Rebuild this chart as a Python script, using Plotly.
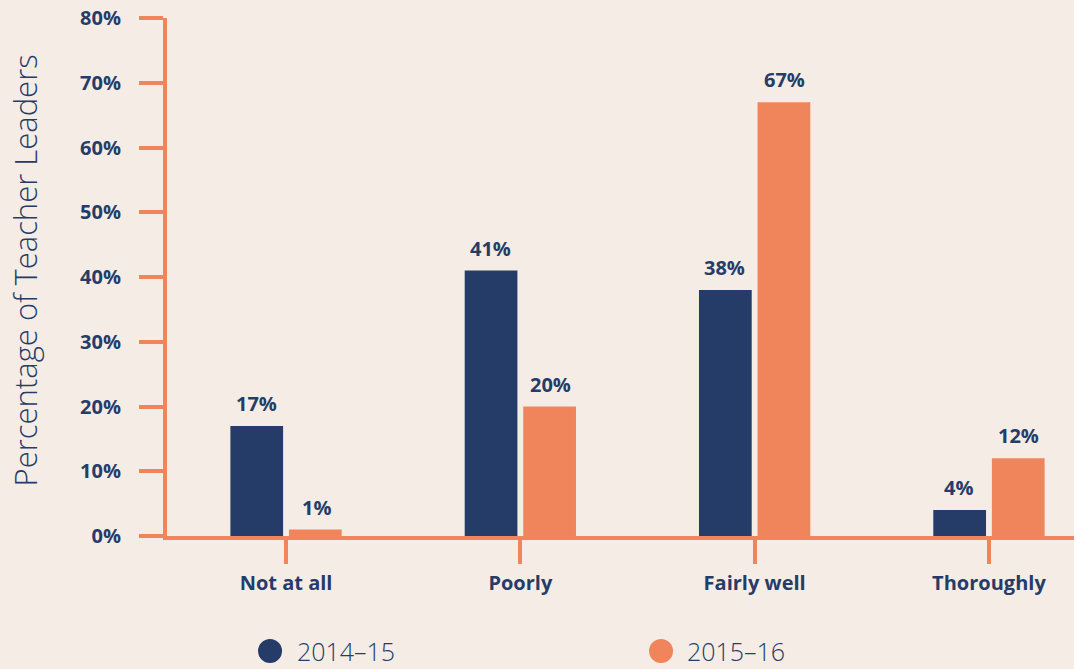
import plotly.graph_objects as go

categories = ["Not at all", "Poorly", "Fairly well", "Thoroughly"]
series_names = ["2014\u201315", "2015\u201316"]
values_2014 = [17, 41, 38, 4]
values_2015 = [1, 20, 67, 12]
y_ticks = [0, 10, 20, 30, 40, 50, 60, 70, 80]
y_tick_labels = [f"{v}%" for v in y_ticks]

NAVY = "#263C68"
ORANGE = "#F0845A"
BG = "#F5ECE6"
BOLD_FONT = "Open Sans"
LIGHT_FONT = "Open Sans"

fig = go.Figure()
fig.add_trace(go.Bar(x=categories, y=values_2014, name=series_names[0],
                     marker=dict(color=NAVY, line=dict(width=0)), showlegend=False))
fig.add_trace(go.Bar(x=categories, y=values_2015, name=series_names[1],
                     marker=dict(color=ORANGE, line=dict(width=0)), showlegend=False))

annotations = []
for vals, shift in ((values_2014, -30), (values_2015, 30)):
    for c, v in zip(categories, vals):
        annotations.append(dict(x=c, y=v, xref="x", yref="y", text=f"{v}%",
                                showarrow=False, xanchor="center", yanchor="bottom",
                                xshift=shift, yshift=7,
                                font=dict(family=BOLD_FONT, size=20, color=NAVY, weight="bold")))

# y-axis title
annotations.append(dict(x=-0.157, y=0.512, xref="paper", yref="paper",
                        text="Percentage of Teacher Leaders", textangle=-90,
                        showarrow=False, xanchor="center", yanchor="middle", borderpad=0,
                        font=dict(family=LIGHT_FONT, size=31, color=NAVY, weight=300)))

# legend (manual)
LEG_Y = -0.2220
shapes = []
legend_items = [(series_names[0], NAVY, 0.1136, 0.1422), (series_names[1], ORANGE, 0.5447, 0.5722)]
for name, col, cx, tx in legend_items:
    shapes.append(dict(type="circle", xref="paper", yref="paper",
                       xsizemode="pixel", ysizemode="pixel",
                       xanchor=cx, yanchor=LEG_Y,
                       x0=-12, x1=12, y0=-12, y1=12,
                       fillcolor=col, line=dict(width=0)))
    annotations.append(dict(x=tx, y=LEG_Y, xref="paper", yref="paper", text=name,
                            showarrow=False, xanchor="left", yanchor="middle", borderpad=0,
                            font=dict(family=LIGHT_FONT, size=25, color=NAVY, weight=300)))

fig.update_layout(
    width=1074, height=669,
    margin=dict(l=167, r=0, t=18, b=133),
    paper_bgcolor=BG, plot_bgcolor=BG,
    barmode="group", bargap=0.5, bargroupgap=0.1,
    annotations=annotations, shapes=shapes,
    showlegend=False,
    xaxis=dict(range=[-0.508, 3.363], showgrid=False, zeroline=False,
               showline=True, linecolor=ORANGE, linewidth=4,
               ticks="outside", ticklen=24, tickwidth=4, tickcolor=ORANGE,
               tickfont=dict(family=BOLD_FONT, size=20, color=NAVY, weight="bold"),
               ticklabelstandoff=2),
    yaxis=dict(range=[0, 80], tickmode="array", tickvals=y_ticks, ticktext=y_tick_labels,
               showgrid=False, zeroline=False, showline=True, linecolor=ORANGE, linewidth=4,
               ticks="outside", ticklen=24, tickwidth=4, tickcolor=ORANGE,
               tickfont=dict(family=BOLD_FONT, size=20, color=NAVY, weight="bold"),
               ticklabelstandoff=14),
)

fig.write_html("out.html")
